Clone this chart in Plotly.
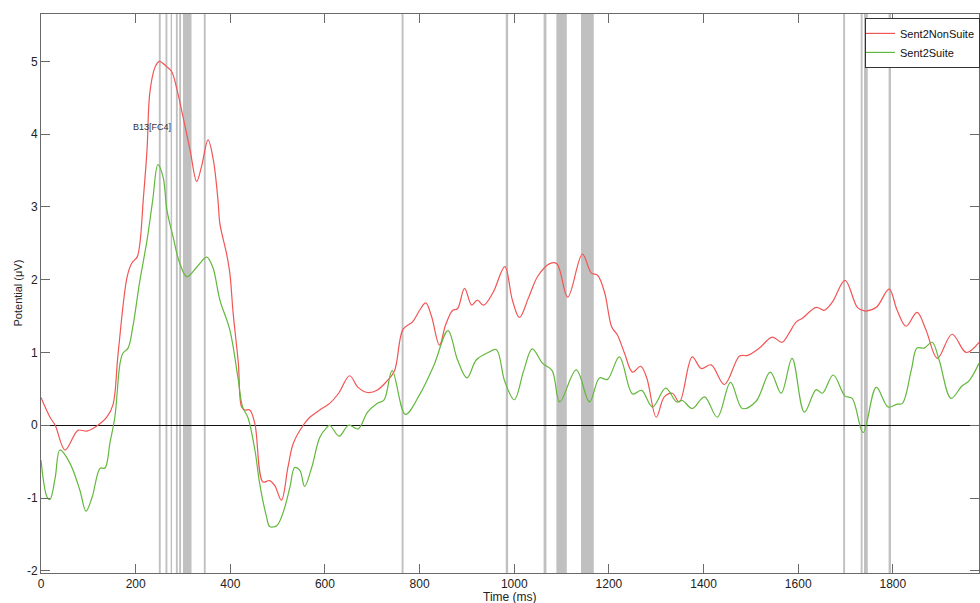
import plotly.graph_objects as go

# time (ms) and potential (uV)
red_t = [0, 19, 30, 51, 78, 97, 118, 139, 152, 163, 182, 192, 203, 209, 216, 224, 230, 241, 250, 265,
         276, 286, 300, 315, 329, 339, 353, 364, 374, 378, 392, 399, 406, 417, 424, 431, 441, 452, 469, 483,
         494, 508, 522, 533, 554, 568, 589, 610, 630, 652, 670, 690, 710, 730, 747, 765, 785, 800, 813, 825,
         842, 855, 870, 880, 895, 910, 922, 935, 955, 980, 996, 1011, 1030, 1050, 1075, 1090, 1113, 1144, 1163, 1176,
         1191, 1206, 1218, 1233, 1250, 1267, 1280, 1300, 1317, 1334, 1349, 1376, 1395, 1416, 1444, 1476, 1493, 1518, 1545, 1566,
         1581, 1596, 1609, 1638, 1655, 1672, 1699, 1725, 1740, 1765, 1792, 1809, 1828, 1851, 1870, 1894, 1925, 1955, 1982]
red_v = [0.38, 0.11, 0.0, -0.34, -0.07, -0.08, -0.01, 0.11, 0.28, 0.99, 2.04, 2.23, 2.31, 2.50, 3.09, 3.78, 4.57, 4.92, 5.00, 4.93,
         4.86, 4.65, 4.24, 3.78, 3.35, 3.55, 3.92, 3.65, 3.09, 2.77, 2.36, 2.09, 1.54, 0.85, 0.25, 0.21, 0.21, 0.02, -0.78, -0.76,
         -0.83, -1.03, -0.57, -0.25, 0.0, 0.11, 0.21, 0.30, 0.45, 0.68, 0.52, 0.45, 0.48, 0.60, 0.75, 1.32, 1.42, 1.58, 1.68, 1.50,
         1.10, 1.38, 1.58, 1.60, 1.88, 1.65, 1.72, 1.65, 1.82, 2.18, 1.72, 1.48, 1.75, 2.05, 2.22, 2.22, 1.76, 2.35, 2.09, 2.06,
         1.82, 1.35, 1.24, 0.99, 0.73, 0.81, 0.65, 0.11, 0.39, 0.44, 0.32, 0.94, 0.78, 0.83, 0.56, 0.95, 0.96, 1.06, 1.21, 1.14,
         1.27, 1.42, 1.47, 1.62, 1.58, 1.69, 1.99, 1.62, 1.57, 1.62, 1.87, 1.58, 1.36, 1.55, 1.31, 0.92, 1.25, 1.00, 1.14]

green_t = [0, 13, 19, 30, 40, 61, 82, 95, 108, 125, 135, 146, 156, 167, 173, 184, 194, 209, 224, 236,
           247, 258, 266, 279, 293, 308, 329, 350, 363, 378, 399, 416, 426, 437, 452, 462, 477, 483, 498, 511,
           526, 536, 547, 557, 572, 589, 604, 610, 630, 650, 670, 690, 710, 725, 742, 770, 800, 830, 860, 880,
           900, 920, 945, 962, 980, 1000, 1020, 1038, 1060, 1080, 1096, 1131, 1159, 1180, 1197, 1222, 1250, 1269, 1292, 1320,
           1343, 1355, 1376, 1402, 1429, 1457, 1482, 1511, 1541, 1564, 1587, 1613, 1638, 1651, 1674, 1699, 1714, 1737, 1765, 1790,
           1809, 1820, 1839, 1851, 1866, 1883, 1898, 1923, 1946, 1961, 1982]
green_v = [-0.48, -0.99, -1.02, -0.72, -0.34, -0.52, -0.89, -1.18, -0.99, -0.59, -0.59, -0.23, 0.11, 0.85, 0.99, 1.06, 1.35, 1.99, 2.54, 3.09,
           3.58, 3.41, 2.96, 2.59, 2.23, 2.04, 2.17, 2.31, 2.17, 1.72, 1.31, 0.66, 0.25, 0.11, -0.34, -0.80, -1.27, -1.39, -1.38, -1.21,
           -0.85, -0.58, -0.62, -0.84, -0.58, -0.17, -0.03, 0.0, -0.15, 0.0, -0.05, 0.18, 0.30, 0.35, 0.75, 0.15, 0.42, 0.82, 1.30, 0.90,
           0.65, 0.90, 1.00, 1.04, 0.60, 0.35, 0.75, 1.05, 0.85, 0.75, 0.32, 0.76, 0.32, 0.65, 0.63, 0.94, 0.43, 0.48, 0.25, 0.51,
           0.32, 0.34, 0.23, 0.39, 0.11, 0.59, 0.23, 0.33, 0.73, 0.44, 0.92, 0.18, 0.49, 0.44, 0.69, 0.40, 0.37, -0.10, 0.52, 0.25,
           0.29, 0.30, 0.76, 1.06, 1.06, 1.14, 0.89, 0.37, 0.54, 0.61, 0.85]

# significant time windows (ms)
band_start = [249, 263, 274, 285, 292, 300, 344, 762, 982, 1062, 1089, 1141, 1695, 1732, 1739, 1791]
band_end = [253, 267, 277, 289, 296, 318, 348, 766, 987, 1068, 1111, 1168, 1699, 1736, 1747, 1796]

y_ticks = [-2, -1, 0, 1, 2, 3, 4, 5]
y_labels = ['-2', '-1', '0', '1', '2', '3', '4', '5']
x_ticks = [0, 200, 400, 600, 800, 1000, 1200, 1400, 1600, 1800]

font = "Arial, Liberation Sans, sans-serif"

fig = go.Figure()
fig.add_trace(go.Scatter(x=red_t, y=red_v, mode='lines', name='Sent2NonSuite',
                         line=dict(color='#f25555', width=1.2, shape='spline', smoothing=1.0)))
fig.add_trace(go.Scatter(x=green_t, y=green_v, mode='lines', name='Sent2Suite',
                         line=dict(color='#62b83c', width=1.2, shape='spline', smoothing=1.0)))

for s, e in zip(band_start, band_end):
    fig.add_shape(type='rect', xref='x', yref='paper', x0=s, x1=e, y0=0, y1=1,
                  fillcolor='#c0c0c0', line=dict(width=0), layer='below')

fig.add_annotation(x=235, y=4.10, text='B13[FC4]', showarrow=False,
                   font=dict(family=font, size=9, color='#303040'))

# axis titles as annotations so they sit where the reference has them
fig.add_annotation(xref='paper', yref='paper', x=0.5, y=0, yshift=-24, yanchor='middle',
                   text='Time (ms)', showarrow=False,
                   font=dict(family=font, size=12, color='#222222'))
fig.add_annotation(xref='paper', yref='paper', x=0, xshift=-24, y=0.5, textangle=-90,
                   xanchor='center', yanchor='middle',
                   text='Potential (μV)', showarrow=False,
                   font=dict(family=font, size=11, color='#222222'))

axis_common = dict(showgrid=False, showline=True, linecolor='#6a6a6a', linewidth=1, mirror='ticks',
                   ticks='inside', ticklen=9, tickcolor='#6a6a6a', automargin=False,
                   tickfont=dict(family=font, size=12, color='#222222'))

fig.update_layout(
    width=980, height=603,
    margin=dict(l=41, r=0, t=14, b=30),
    paper_bgcolor='white', plot_bgcolor='white',
    showlegend=True,
    legend=dict(x=0.878, y=0.993, xanchor='left', yanchor='top',
                bgcolor='white', bordercolor='#333333', borderwidth=1,
                font=dict(family=font, size=11, color='#111111'),
                indentation=-6, tracegroupgap=0),
    xaxis=dict(range=[0, 1982], tickvals=x_ticks, zeroline=False, **axis_common),
    yaxis=dict(range=[-2.03, 5.65], tickvals=y_ticks, ticktext=y_labels,
               zeroline=True, zerolinecolor='#111111', zerolinewidth=1, **axis_common),
)

fig.write_html("out.html", config={'displayModeBar': False},
               post_script="document.body.style.margin='0';document.body.style.overflow='hidden';")
